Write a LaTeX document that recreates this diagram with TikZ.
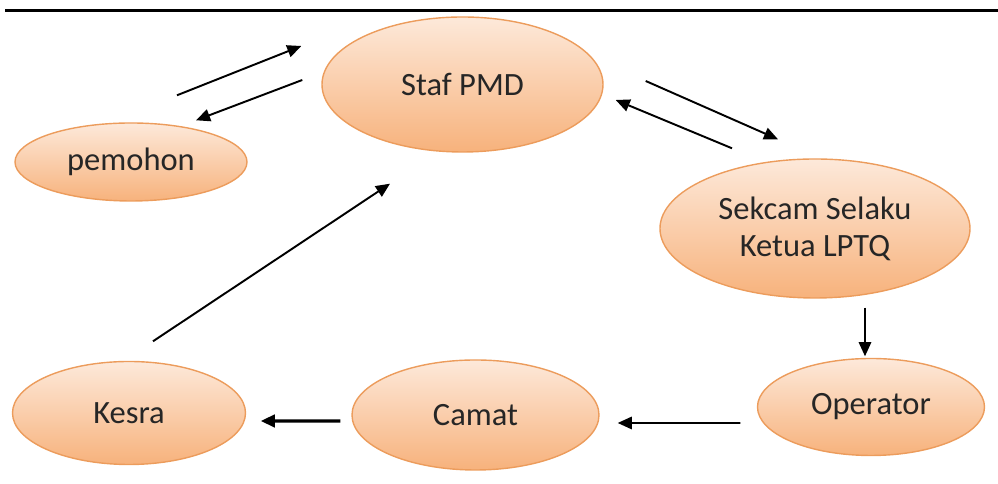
\documentclass[tikz,border=0pt]{standalone}
\usepackage{fontspec}
\setmainfont{Carlito}
\usetikzlibrary{shapes.geometric, arrows.meta}
\definecolor{peachtop}{HTML}{FDE9DA}
\definecolor{peachbot}{HTML}{F7B27C}
\definecolor{peachline}{HTML}{EC9C5C}
\begin{document}
\begin{tikzpicture}[
    actor/.style={ellipse, draw=peachline, thick, top color=peachtop, bottom color=peachbot, inner sep=0pt, align=center, text=black!85, font=\fontsize{18.5}{21}\selectfont},
    arrow/.style={-{Triangle[length=8pt, width=7pt]}, line width=1.1pt, black}
]
\useasboundingbox (0,0) rectangle (19.96,9.68);
\draw[line width=1.7pt] (0.1,9.46) -- (19.96,9.46);

\node[actor, minimum width=5.62cm, minimum height=2.7cm] (staf) at (9.25,7.99) {Staf PMD};
\node[actor, minimum width=4.64cm, minimum height=1.56cm] (pemohon) at (2.62,6.44) {pemohon};
\node[actor, minimum width=6.2cm, minimum height=2.78cm] (sekcam) at (16.3,5.11) {Sekcam Selaku\\Ketua LPTQ};
\node[actor, minimum width=4.54cm, minimum height=1.94cm] (operator) at (17.42,1.54) {Operator};
\node[actor, minimum width=4.94cm, minimum height=2.2cm] (camat) at (9.51,1.38) {Camat};
\node[actor, minimum width=4.66cm, minimum height=2.06cm] (kesra) at (2.58,1.42) {Kesra};

\draw[arrow] ([shift={(0.92,0.54)}]pemohon.north) -- ([shift={(-0.4,0.77)}]staf.west);
\draw[arrow] ([shift={(-0.38,0.09)}]staf.west) -- ([shift={(1.3,0.04)}]pemohon.north);
\draw[arrow] ([shift={(0.84,0.07)}]staf.east) -- ([shift={(-0.74,0.38)}]sekcam.north);
\draw[arrow] ([shift={(-1.66,0.2)}]sekcam.north) -- ([shift={(0.24,-0.31)}]staf.east);
\draw[arrow] ([shift={(1.0,-0.18)}]sekcam.south) -- ([shift={(-0.12,0.03)}]operator.north);
\draw[arrow] ([shift={(-0.33,-0.32)}]operator.west) -- ([shift={(0.36,-0.16)}]camat.east);
\draw[arrow, line width=1.8pt] ([shift={(-0.22,-0.12)}]camat.west) -- ([shift={(0.29,-0.16)}]kesra.east);
\draw[arrow] ([shift={(0.48,0.39)}]kesra.north) -- ([shift={(-1.45,-0.62)}]staf.south);
\end{tikzpicture}
\end{document}
